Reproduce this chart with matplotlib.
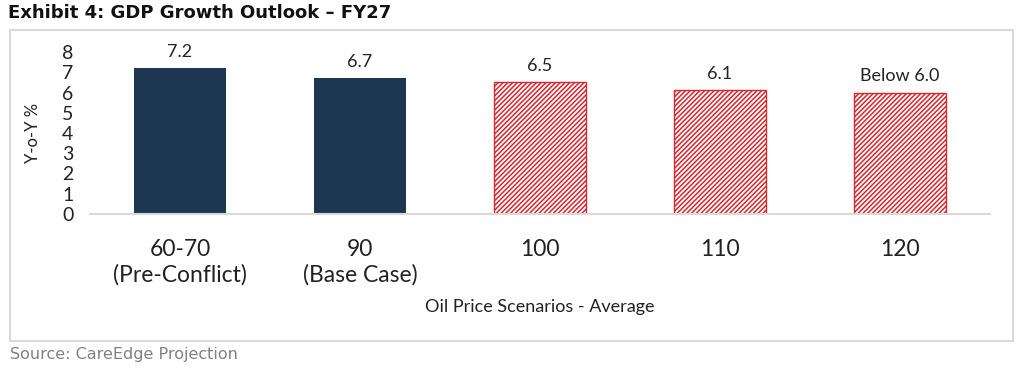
import matplotlib
matplotlib.use("Agg")
import matplotlib.pyplot as plt
from matplotlib.patches import Rectangle

# data
categories = ["60-70\n(Pre-Conflict)", "90\n(Base Case)", "100", "110", "120"]
growth = [7.2, 6.7, 6.5, 6.1, 6.0]
value_labels = ["7.2", "6.7", "6.5", "6.1", "Below 6.0"]
projected = [False, False, True, True, True]

NAVY = "#1d3652"
RED = "#d9262e"
GRID = "#d9d9d9"
TXT = "#222222"
narrow = ["Lato", "DejaVu Sans"]

plt.rcParams["hatch.linewidth"] = 1.1

fig = plt.figure(figsize=(10.24, 3.76), dpi=100)
ax = fig.add_axes([90 / 1024, 1 - 214 / 376, 900 / 1024, 162 / 376])

x = list(range(len(categories)))
for i in x:
    if projected[i]:
        ax.bar(i, growth[i], width=0.51, facecolor="white", edgecolor=RED,
               hatch="///////", linewidth=1.0)
    else:
        ax.bar(i, growth[i], width=0.51, color=NAVY)
    ax.annotate(value_labels[i], (i, growth[i]), xytext=(0, 6),
                textcoords="offset points", ha="center", va="bottom",
                fontsize=13, family=narrow, color=TXT)

ax.set_xlim(-0.5, 4.5)
ax.set_ylim(0, 8)
ax.set_yticks(range(0, 9))
ax.set_xticks(x)
ax.set_xticklabels(categories, fontsize=16.5, family=narrow, color=TXT,
                   linespacing=1.25)
for lab in ax.get_yticklabels():
    lab.set_family(narrow)
    lab.set_fontsize(14)
    lab.set_color(TXT)
ax.tick_params(axis="both", length=0)
ax.tick_params(axis="x", pad=18)
ax.tick_params(axis="y", pad=12)

for s in ["top", "right", "left"]:
    ax.spines[s].set_visible(False)
ax.spines["bottom"].set_color(GRID)
ax.spines["bottom"].set_linewidth(1.5)

fig.text(33 / 1024, 1 - 133 / 376, "Y-o-Y %", rotation=90, ha="center",
         va="center", fontsize=12, family=narrow, color=TXT)
fig.text(540 / 1024, 1 - 307 / 376, "Oil Price Scenarios - Average", ha="center",
         va="center", fontsize=13, family=narrow, color=TXT)

# outer frame
fig.patches.append(Rectangle((10 / 1024, 1 - 341 / 376), 1003 / 1024, 311 / 376,
                             transform=fig.transFigure, fill=False,
                             edgecolor=GRID, linewidth=1.5))

fig.text(8 / 1024, 1 - 13 / 376, "Exhibit 4: GDP Growth Outlook \u2013 FY27",
         ha="left", va="center", fontsize=13, fontweight="bold",
         family="DejaVu Sans", color="#111111")
fig.text(10 / 1024, 1 - 355 / 376, "Source: CareEdge Projection", ha="left",
         va="center", fontsize=11.5, family="DejaVu Sans", color="#808080")

fig.savefig("out.png", dpi=100)
